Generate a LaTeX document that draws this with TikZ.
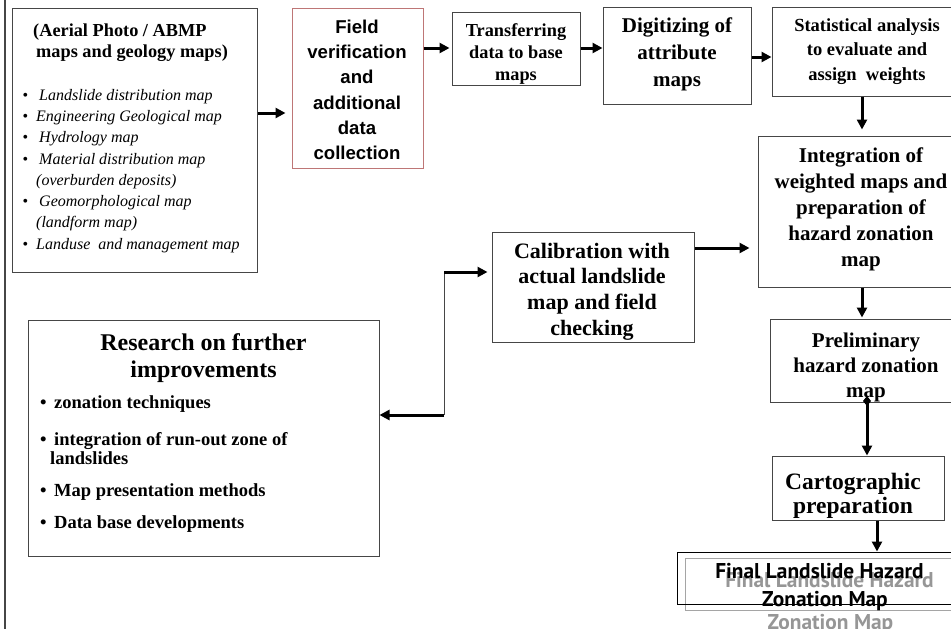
\documentclass[tikz,border=0pt]{standalone}
\usepackage{fontspec}
\setmainfont{Liberation Serif}
\newfontfamily\arialfam{Liberation Sans}
\newfontfamily\ptsansfam{PT Sans}
\usetikzlibrary{arrows.meta}
\newcommand\myfs[1]{\fontsize{#1}{#1}\selectfont}
\newcommand\bulA[1]{\makebox[#1][l]{\upshape\textbullet}}
\definecolor{bordergray}{RGB}{70,70,70}
\definecolor{redborder}{RGB}{190,118,118}
\definecolor{shadowtext}{RGB}{150,150,150}
\definecolor{shadowbox}{RGB}{165,165,165}
\tikzset{
  box/.style={draw=bordergray, line width=1pt, inner sep=0pt},
  arr/.style={line width=3pt, -{Triangle[length=10pt,width=10pt]}},
  tl/.style={anchor=base, inner sep=0pt},
  tlw/.style={anchor=base west, inner sep=0pt},
  fone/.style={font=\bfseries\myfs{18.3}},
  fbul/.style={font=\itshape\myfs{16}},
  farial/.style={font=\arialfam\bfseries\myfs{18.6}},
  fsmall/.style={font=\bfseries\myfs{18.5}},
  fmid/.style={font=\bfseries\myfs{21}},
  fcal/.style={font=\bfseries\myfs{22}},
  fbig/.style={font=\bfseries\myfs{23.5}},
  fres/.style={font=\bfseries\myfs{24}},
  ffinal/.style={font=\ptsansfam\bfseries\myfs{21.4}},
}
\begin{document}
\begin{tikzpicture}[x=1pt,y=-1pt]
\useasboundingbox (0,0) rectangle (951,629);
\fill[white] (0,0) rectangle (951,629);
\clip (0,0) rectangle (951,629);

% page border on the left
\draw[bordergray, line width=1.3pt] (5,0) -- (5,629);

% boxes
\node[box, minimum width=245pt, minimum height=264pt] (b1) at (134.5,140) {};
\node[box, draw=redborder, minimum width=131pt, minimum height=160pt] (b2) at (357.5,88) {};
\node[box, minimum width=128pt, minimum height=73pt] (b3) at (516,48.5) {};
\node[box, minimum width=148pt, minimum height=97pt] (b4) at (677,55.5) {};
\node[box, minimum width=188pt, minimum height=89pt] (b5) at (866,51.5) {};
\node[box, minimum width=202pt, minimum height=151pt] (b6) at (859,211.5) {};
\node[box, minimum width=190pt, minimum height=83pt] (b7) at (865,360.5) {};
\node[box, minimum width=172pt, minimum height=64pt] (b8) at (858,488) {};
\node[box, draw=shadowbox, minimum width=275pt, minimum height=52pt] (b9s) at (822.5,584) {};
\node[box, draw=black, minimum width=283pt, minimum height=52pt] (b9) at (818.5,578) {};
\node[box, minimum width=202pt, minimum height=110pt] (b10) at (593,287) {};
\node[box, minimum width=351pt, minimum height=236pt] (b11) at (203.5,438) {};

% box 1 text
\node[tlw, fone] (t1a) at (33,36) {(Aerial Photo / ABMP};
\node[tlw, fone] (t1b) at (36,57.5) {maps and geology maps)};
\node[tlw, fbul] (l1) at (22.5,100) {\bulA{16.5pt}Landslide distribution map};
\node[tlw, fbul] (l2) at (22.5,121.3) {\bulA{13.5pt}Engineering Geological map};
\node[tlw, fbul] (l3) at (22.5,142.6) {\bulA{16.5pt}Hydrology map};
\node[tlw, fbul] (l4) at (22.5,164) {\bulA{16.5pt}Material distribution map};
\node[tlw, fbul] (l5) at (36,185.2) {(overburden deposits)};
\node[tlw, fbul] (l6) at (22.5,206.5) {\bulA{16.5pt}Geomorphological map};
\node[tlw, fbul] (l7) at (36,227.8) {(landform map)};
\node[tlw, fbul] (l8) at (22.5,249) {\bulA{13.5pt}Landuse\ \ and management map};

% box 2 text
\node[tl, farial] (t2a) at (357,33) {Field};
\node[tl, farial] (t2b) at (357,58.3) {verification};
\node[tl, farial] (t2c) at (357,83.6) {and};
\node[tl, farial] (t2d) at (357,109) {additional};
\node[tl, farial] (t2e) at (357,134.3) {data};
\node[tl, farial] (t2f) at (357,159.6) {collection};

% box 3 text
\node[tl, fone] (t3a) at (516,36) {Transferring};
\node[tl, fone] (t3b) at (516,58) {data to base};
\node[tl, fone] (t3c) at (516,80) {maps};

% box 4 text
\node[tl, fmid] (t4a) at (677,32) {Digitizing of};
\node[tl, fmid] (t4b) at (677,59) {attribute};
\node[tl, fmid] (t4c) at (677,86) {maps};

% box 5 text
\node[tl, fsmall] (t5a) at (867,31) {Statistical analysis};
\node[tl, fsmall] (t5b) at (867,55.5) {to evaluate and};
\node[tl, fsmall] (t5c) at (867,80) {assign\ \ weights};

% box 6 text
\node[tl, fmid] (t6a) at (861,162) {Integration of};
\node[tl, fmid] (t6b) at (861,188.2) {weighted maps and};
\node[tl, fmid] (t6c) at (861,214.4) {preparation of};
\node[tl, fmid] (t6d) at (861,240.6) {hazard zonation};
\node[tl, fmid] (t6e) at (861,266.8) {map};

% box 7 text
\node[tl, fmid] (t7a) at (866,347) {Preliminary};
\node[tl, fmid] (t7b) at (866,372) {hazard zonation};
\node[tl, fmid] (t7c) at (866,397) {map};

% box 8 text
\node[tl, fbig] (t8a) at (853,489) {Cartographic};
\node[tl, fbig] (t8b) at (853,513) {preparation};

% box 9 text (shadow first, then black)
\node[tl, ffinal, text=shadowtext] (t9s1) at (829.5,587) {Final Landslide Hazard};
\node[tl, ffinal, text=shadowtext] (t9s2) at (830.5,629) {Zonation Map};
\node[tl, ffinal] (t9a) at (819.5,578) {Final Landslide Hazard};
\node[tl, ffinal] (t9b) at (825,606) {Zonation Map};

% box 10 text
\node[tl, fcal] (t10a) at (592,258) {Calibration with};
\node[tl, fcal] (t10b) at (592,283.7) {actual landslide};
\node[tl, fcal] (t10c) at (592,309.4) {map and field};
\node[tl, fcal] (t10d) at (592,335) {checking};

% box 11 text
\node[tl, fres] (t11a) at (203.5,350) {Research on further};
\node[tl, fres] (t11b) at (203.5,377) {improvements};
\node[tlw, fsmall] (r1) at (40,408) {\bulA{14pt}zonation techniques};
\node[tlw, fsmall] (r2) at (40,445) {\bulA{14pt}integration of run-out zone of};
\node[tlw, fsmall] (r3) at (50,464) {landslides};
\node[tlw, fsmall] (r4) at (40,496) {\bulA{14pt}Map presentation methods};
\node[tlw, fsmall] (r5) at (40,528) {\bulA{14pt}Data base developments};

% connectors
\draw[arr, shorten >=6pt] (b1.east |- 0,113) -- (b2.west |- 0,113);
\draw[arr, shorten >=2pt] (b2.east |- 0,48) -- (b3.west |- 0,48);
\draw[arr, shorten >=0pt] (b3.east |- 0,48) -- (b4.west |- 0,48);
\draw[arr] (b4.east |- 0,57) -- (b5.west |- 0,57);
\draw[arr, shorten >=6pt] (b5.south -| 862,0) -- (b6.north -| 862,0);
\draw[arr, shorten >=1pt] (b6.south -| 862,0) -- (b7.north -| 862,0);
\coordinate (d7) at (867,396);
\draw[line width=3pt, {Diamond[length=10pt,width=8pt]}-{Triangle[length=10pt,width=10pt]}] (d7) -- (b8.north -| 867,0);
\draw[arr] (b8.south -| 877,0) -- (b9.north -| 877,0);
\draw[arr, shorten >=8pt] (b10.east |- 0,248) -- (b6.west |- 0,248);

\coordinate (j1) at (444,415);
\coordinate (j2) at (444,272);
\draw[bordergray, line width=1pt] (j1) -- (j2);
\draw[arr, shorten >=4pt] (j2) -- (b10.west |- j2);
\draw[arr] (j1) -- (b11.east |- j1);
\end{tikzpicture}
\end{document}
